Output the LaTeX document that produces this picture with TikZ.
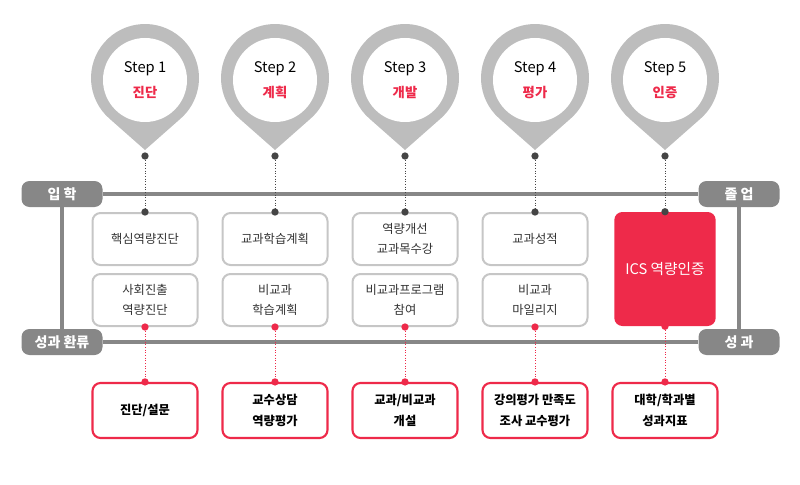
\documentclass[tikz,border=0pt]{standalone}
\usepackage{fontspec}
\setmainfont{Noto Sans CJK KR}
\usetikzlibrary{calc}
\definecolor{pingray}{HTML}{BDBDBD}
\definecolor{bargray}{HTML}{878787}
\definecolor{boxgray}{HTML}{C6C6C6}
\definecolor{ptred}{HTML}{EE2A4A}
\definecolor{dotdark}{HTML}{454545}
\definecolor{txtdark}{HTML}{333333}
\tikzset{
  pill/.style     = {fill=bargray, rounded corners=6pt, minimum width=60.75pt,
                     minimum height=19.5pt, inner sep=0pt, text=white,
                     font=\fontsize{10.5}{12}\selectfont\bfseries},
  bar/.style      = {bargray, line width=3pt},
  pinface/.style  = {circle, fill=white, minimum size=63pt, inner sep=0pt,
                     align=center, text=black, font=\fontsize{11}{12}\selectfont},
  stepbox/.style  = {draw=boxgray, line width=1.5pt, rounded corners=6pt, fill=white,
                     minimum width=78.75pt, minimum height=39pt, inner sep=0pt,
                     align=center, text=txtdark, font=\fontsize{9.2}{15.5}\selectfont},
  resbox/.style   = {draw=ptred, line width=1.6pt, rounded corners=6pt, fill=white,
                     minimum width=78.75pt, minimum height=41.25pt, inner sep=0pt,
                     align=center, text=black, font=\fontsize{9.2}{15.5}\selectfont\bfseries},
  icsbox/.style   = {fill=ptred, rounded corners=6pt, minimum width=76pt,
                     minimum height=85.5pt, inner sep=0pt, text=white,
                     font=\fontsize{11}{12}\selectfont},
  darkdot/.style  = {circle, fill=dotdark, minimum size=5.5pt, inner sep=0pt},
  reddot/.style   = {circle, fill=ptred, minimum size=5.5pt, inner sep=0pt},
  darkline/.style = {dotdark, line width=0.75pt, dash pattern=on 0.75pt off 1.25pt},
  redline/.style  = {ptred, line width=0.75pt, dash pattern=on 0.75pt off 1.25pt}
}
\begin{document}
\begin{tikzpicture}[x=0.75pt,y=-0.75pt]
  \useasboundingbox (0,0) rectangle (800,485);
  % frame
  \node[pill] (entry)  at (62,194)  {입 학};
  \node[pill] (grad)   at (739,194) {졸 업};
  \node[pill] (review) at (62,342)  {성과 환류};
  \node[pill] (result) at (739,342) {성 과};
  \draw[bar] (entry.east) -- (grad.west);
  \draw[bar] (review.east) -- (result.west);
  \draw[bar] (entry.south) -- (review.north);
  \draw[bar] (grad.south) -- (result.north);
  % pins
  \foreach \i/\ttl in {1/진단,2/계획,3/개발,4/평가,5/인증} {
    \coordinate (c\i) at ({145+130*(\i-1)},78);
    \fill[pingray] ($(c\i)+(0,72)$) -- ($(c\i)+(131.4:54)$)
         arc[start angle=131.4, end angle=408.6, radius=54] -- cycle;
    \node[pinface] (pin\i) at ($(c\i)+(0,2)$)
         {Step \i\\[7pt]{\color{ptred}\bfseries\fontsize{10}{11}\selectfont\ttl}};
    \node[darkdot] (pd\i) at ($(c\i)+(0,78)$) {};
  }
  % steps
  \foreach \i/\ta/\tb in {1/핵심역량진단/{사회진출\\역량진단},
                          2/교과학습계획/{비교과\\학습계획},
                          3/{역량개선\\교과목수강}/{비교과프로그램\\참여},
                          4/교과성적/{비교과\\마일리지}} {
    \node[stepbox] (ba\i) at ({145+130*(\i-1)},239) {\ta};
    \node[stepbox] (bb\i) at ({145+130*(\i-1)},300) {\tb};
    \node[darkdot] (ta\i) at (ba\i.north) {};
    \node[reddot]  (tb\i) at (bb\i.south) {};
  }
  \node[icsbox] (bb5) at (665,269) {ICS 역량인증};
  \node[darkdot] (ta5) at (bb5.north) {};
  \node[reddot]  (tb5) at (bb5.south) {};
  % results
  \foreach \i/\tr in {1/{진단/설문},2/{교수상담\\역량평가},3/{교과/비교과\\개설},
                      4/{강의평가 만족도\\조사 교수평가},5/{대학/학과별\\성과지표}} {
    \node[resbox] (rb\i) at ({145+130*(\i-1)},410.5) {\tr};
    \node[reddot] (rd\i) at (rb\i.north) {};
    \draw[darkline] (pd\i) -- (ta\i);
    \draw[redline] (tb\i) -- (rd\i);
  }
\end{tikzpicture}
\end{document}
